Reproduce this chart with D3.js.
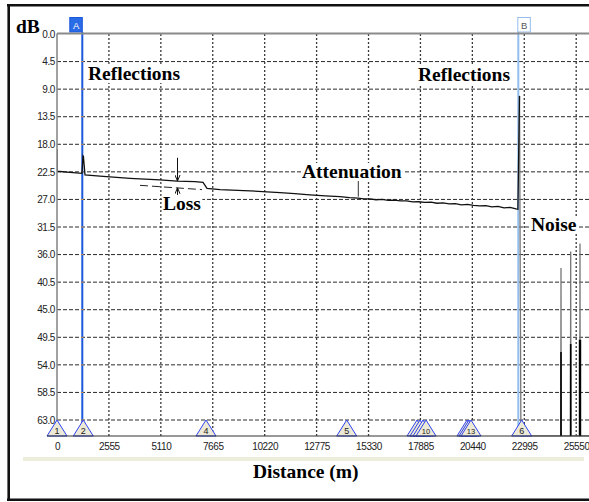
<!DOCTYPE html>
<html>
<head>
<meta charset="utf-8">
<script src="https://cdn.jsdelivr.net/npm/d3@7"></script>
<style>
  body { margin: 0; background: #fff; }
  svg { display: block; }
  .ann { font-family: "Liberation Serif", "Times New Roman", serif; font-weight: bold; font-size: 19.5px; fill: #000; }
</style>
</head>
<body>
<div id="chart"></div>
<script>
var width = 589, height = 502;

// y axis in dB (attenuation downwards), x axis distance in metres
var yTicks = [0, 4.5, 9, 13.5, 18, 22.5, 27, 31.5, 36, 40.5, 45, 49.5, 54, 58.5, 63];
var xTicks = [0, 2555, 5110, 7665, 10220, 12775, 15330, 17885, 20440, 22995, 25550];

// main trace [distance, dB]
var traceMain = [
  [0, 18.8], [10, 22.4], [640, 22.6], [1230, 22.75], [1280, 19.9], [1300, 20.0], [1378, 23.0],
  [2116, 23.2], [3592, 23.55], [5069, 23.8], [5905, 24.0], [6791, 24.1], [7185, 24.2],
  [7382, 25.2], [8021, 25.4], [9498, 25.6], [10974, 25.9], [11700, 26.05], [12450, 26.25],
  [13200, 26.42], [13926, 26.55], [14400, 26.72], [14812, 26.8], [15100, 26.92], [15400, 26.9],
  [15700, 27.05], [16000, 27.0], [16300, 27.16], [16600, 27.12], [16900, 27.25], [17200, 27.22],
  [17500, 27.4], [17800, 27.38], [18100, 27.48], [18400, 27.44], [18700, 27.62], [19000, 27.55],
  [19300, 27.72], [19600, 27.68], [19900, 27.88], [20200, 27.82], [20500, 27.98], [20800, 28.05],
  [21100, 28.02], [21400, 28.22], [21700, 28.15], [22000, 28.38], [22300, 28.3], [22587, 28.55],
  [22680, 28.6], [22760, 10.1]
];
// end reflection drop and noise region
var traceTail = [
  [22760, 10.1], [22830, 65.6], [24790, 65.6], [24802, 38.2], [24814, 65.6], [25267, 65.6],
  [25279, 35.5], [25291, 65.6], [25725, 65.6], [25737, 34.2], [25749, 65.6], [26300, 65.6]
];
var noiseInner = [[24802, 51.9], [25279, 50.6], [25737, 49.9]];
var lossRef = [[4084, 24.7], [7136, 25.4]];

var events = [
  { label: "1", dist: 0 }, { label: "2", dist: 1294 }, { label: "4", dist: 7332 },
  { label: "5", dist: 14256 }, { label: "7", dist: 17716 }, { label: "8", dist: 17863 },
  { label: "9", dist: 18011 }, { label: "10", dist: 18159 }, { label: "11", dist: 20176 },
  { label: "12", dist: 20275 }, { label: "13", dist: 20373 }, { label: "6", dist: 22868 }
];
var cursors = [
  { name: "A", dist: 1245, color: "#1a58dc", fill: "#2a6be6", text: "#fff", side: -1 },
  { name: "B", dist: 22701, color: "#92bdec", fill: "#fff", text: "#555", side: 1 }
];

var x = d3.scaleLinear().domain([0, 25550]).range([57, 576.2]);
var y = d3.scaleLinear().domain([0, 63]).range([34, 420]);
var plotRight = width, axisY = 436;

var svg = d3.select("#chart").append("svg")
    .attr("width", width)
    .attr("height", height);

svg.append("defs").append("clipPath").attr("id", "plotClip")
    .append("rect").attr("x", 57).attr("y", 0).attr("width", width - 57).attr("height", axisY + 1);

// frame
svg.append("line").attr("x1", 7).attr("x2", width).attr("y1", 5.3).attr("y2", 5.3)
    .attr("stroke", "#111").attr("stroke-width", 2.6);
svg.append("line").attr("x1", 8.7).attr("x2", 8.7).attr("y1", 4).attr("y2", 501)
    .attr("stroke", "#111").attr("stroke-width", 2.6);
svg.append("line").attr("x1", 7).attr("x2", width).attr("y1", 499.7).attr("y2", 499.7)
    .attr("stroke", "#111").attr("stroke-width", 2.6);

// grid
svg.selectAll(".hgrid")
    .data(yTicks.filter(function(d) { return d > 0; }))
    .enter().append("line")
    .attr("class", "hgrid")
    .attr("x1", 57).attr("x2", plotRight)
    .attr("y1", function(d) { return y(d); })
    .attr("y2", function(d) { return y(d); })
    .attr("stroke", "#2a2a2a").attr("stroke-width", 1)
    .attr("stroke-dasharray", "4,2");

svg.selectAll(".vgrid")
    .data(xTicks.filter(function(d) { return d > 0; }))
    .enter().append("line")
    .attr("class", "vgrid")
    .attr("x1", function(d) { return x(d); })
    .attr("x2", function(d) { return x(d); })
    .attr("y1", 34).attr("y2", axisY)
    .attr("stroke", "#3a3a3a").attr("stroke-width", 1.3)
    .attr("stroke-dasharray", "2,2");

// cursors
var cur = svg.selectAll(".cursor").data(cursors).enter().append("g").attr("class", "cursor");
cur.append("line")
    .attr("x1", function(d) { return x(d.dist); })
    .attr("x2", function(d) { return x(d.dist); })
    .attr("y1", 32).attr("y2", axisY)
    .attr("stroke", function(d) { return d.color; })
    .attr("stroke-width", 2);
cur.append("rect")
    .attr("x", function(d) { return d.side < 0 ? x(d.dist) - 12.5 : x(d.dist) - 0.5; })
    .attr("y", 17.5).attr("width", 12.5).attr("height", 14.5)
    .attr("fill", function(d) { return d.fill; })
    .attr("stroke", function(d) { return d.color; })
    .attr("stroke-width", 1);
cur.append("text")
    .attr("x", function(d) { return d.side < 0 ? x(d.dist) - 6.2 : x(d.dist) + 5.8; })
    .attr("y", 28.5)
    .attr("text-anchor", "middle")
    .attr("font-family", "Liberation Sans, Arial, sans-serif")
    .attr("font-size", 9.5)
    .attr("fill", function(d) { return d.text; })
    .text(function(d) { return d.name; });

// small orange marks where cursor A crosses the grid
svg.selectAll(".omark")
    .data(yTicks.filter(function(d) { return d > 0; }))
    .enter().append("rect")
    .attr("x", x(cursors[0].dist) - 1).attr("width", 2)
    .attr("y", function(d) { return y(d) - 0.5; }).attr("height", 1)
    .attr("fill", "#e8a23a");

// traces
var line = d3.line()
    .x(function(d) { return x(d[0]); })
    .y(function(d) { return y(d[1]); });

var plot = svg.append("g").attr("clip-path", "url(#plotClip)");

plot.append("path").datum(traceTail)
    .attr("d", line).attr("fill", "none")
    .attr("stroke", "#777").attr("stroke-width", 1.3);

plot.selectAll(".noise").data(noiseInner).enter().append("line")
    .attr("x1", function(d) { return x(d[0]); })
    .attr("x2", function(d) { return x(d[0]); })
    .attr("y1", function(d) { return y(d[1]); })
    .attr("y2", axisY)
    .attr("stroke", "#000")
    .attr("stroke-width", function(d, i) { return i === 2 ? 2.4 : 1.6; });

plot.append("path").datum(traceMain)
    .attr("d", line).attr("fill", "none")
    .attr("stroke", "#111").attr("stroke-width", 1.3);

plot.append("path").datum(lossRef)
    .attr("d", line).attr("fill", "none")
    .attr("stroke", "#222").attr("stroke-width", 1)
    .attr("stroke-dasharray", "8,4");

// loss arrows and attenuation pointer
svg.append("defs").append("marker")
    .attr("id", "arr").attr("viewBox", "0 0 6 6").attr("refX", 6).attr("refY", 3)
    .attr("markerWidth", 6).attr("markerHeight", 6).attr("orient", "auto")
    .append("path").attr("d", "M0,0.5 L6,3 L0,5.5").attr("fill", "none").attr("stroke", "#111").attr("stroke-width", 1);

svg.append("line")
    .attr("x1", x(5930)).attr("x2", x(5930)).attr("y1", y(20.2)).attr("y2", y(24.0))
    .attr("stroke", "#111").attr("stroke-width", 1).attr("marker-end", "url(#arr)");
svg.append("line")
    .attr("x1", x(5930)).attr("x2", x(5930)).attr("y1", y(26.5)).attr("y2", y(25.1))
    .attr("stroke", "#111").attr("stroke-width", 1).attr("marker-end", "url(#arr)");
svg.append("line")
    .attr("x1", x(14827)).attr("x2", x(14827)).attr("y1", y(23.9)).attr("y2", y(26.55))
    .attr("stroke", "#333").attr("stroke-width", 1);

// event markers
var ev = svg.selectAll(".event").data(events).enter().append("g").attr("class", "event");
ev.append("path")
    .attr("d", function(d) {
        var cx = x(d.dist);
        return "M" + (cx - 10) + "," + axisY + "L" + cx + "," + 420 + "L" + (cx + 10) + "," + axisY + "Z";
    })
    .attr("fill", "#ece9d6")
    .attr("stroke", "#3044f0")
    .attr("stroke-width", 1);
ev.append("text")
    .attr("x", function(d) { return x(d.dist); })
    .attr("y", 433.5)
    .attr("text-anchor", "middle")
    .attr("font-family", "Liberation Sans, Arial, sans-serif")
    .attr("font-size", function(d) { return d.label.length > 1 || +d.label > 6 ? 7.5 : 9; })
    .attr("fill", "#222")
    .text(function(d) { return d.label; });

// axes lines
svg.append("line").attr("x1", 57).attr("x2", plotRight).attr("y1", 33.5).attr("y2", 33.5)
    .attr("stroke", "#8a8a8a").attr("stroke-width", 1.8);
svg.append("line").attr("x1", 57).attr("x2", 57).attr("y1", 33.5).attr("y2", 420)
    .attr("stroke", "#8a8a8a").attr("stroke-width", 1.6);
svg.append("line").attr("x1", 47).attr("x2", plotRight).attr("y1", axisY).attr("y2", axisY)
    .attr("stroke", "#333").attr("stroke-width", 1);

var yAxis = d3.axisLeft(y).tickValues(yTicks).tickSize(0).tickPadding(2).tickFormat(d3.format(".1f"));
var xAxis = d3.axisBottom(x).tickValues(xTicks).tickSize(0).tickPadding(7).tickFormat(d3.format("d"));

var gy = svg.append("g").attr("transform", "translate(57,0)").call(yAxis);
var gx = svg.append("g").attr("transform", "translate(0," + axisY + ")").call(xAxis);
[gy, gx].forEach(function(g) {
    g.select(".domain").remove();
    g.attr("font-family", "Liberation Sans, Arial, sans-serif").attr("font-size", 10);
    g.selectAll("text").attr("fill", "#222").style("letter-spacing", "-0.4px");
});

// bottom bar and axis titles
svg.append("rect").attr("x", 23).attr("y", 457).attr("width", 561).attr("height", 4).attr("fill", "#ededdc");

var notes = [
    { t: "dB", x: 16, y: 33 },
    { t: "Reflections", x: 88, y: 80 },
    { t: "Reflections", x: 418, y: 81 },
    { t: "Attenuation", x: 302, y: 178 },
    { t: "Loss", x: 163, y: 210 },
    { t: "Noise", x: 531, y: 231 },
    { t: "Distance (m)", x: 253, y: 478 }
];
var ng = svg.selectAll(".note").data(notes).enter().append("g").attr("class", "note");
ng.append("text")
    .attr("class", "ann")
    .attr("x", function(d) { return d.x; })
    .attr("y", function(d) { return d.y; })
    .text(function(d) { return d.t; });
ng.each(function() {
    var g = d3.select(this);
    var b = g.select("text").node().getBBox();
    g.insert("rect", "text")
        .attr("x", b.x - 1).attr("y", b.y + 2).attr("width", b.width + 2).attr("height", b.height - 3)
        .attr("fill", "#fff");
});
</script>
</body>
</html>
